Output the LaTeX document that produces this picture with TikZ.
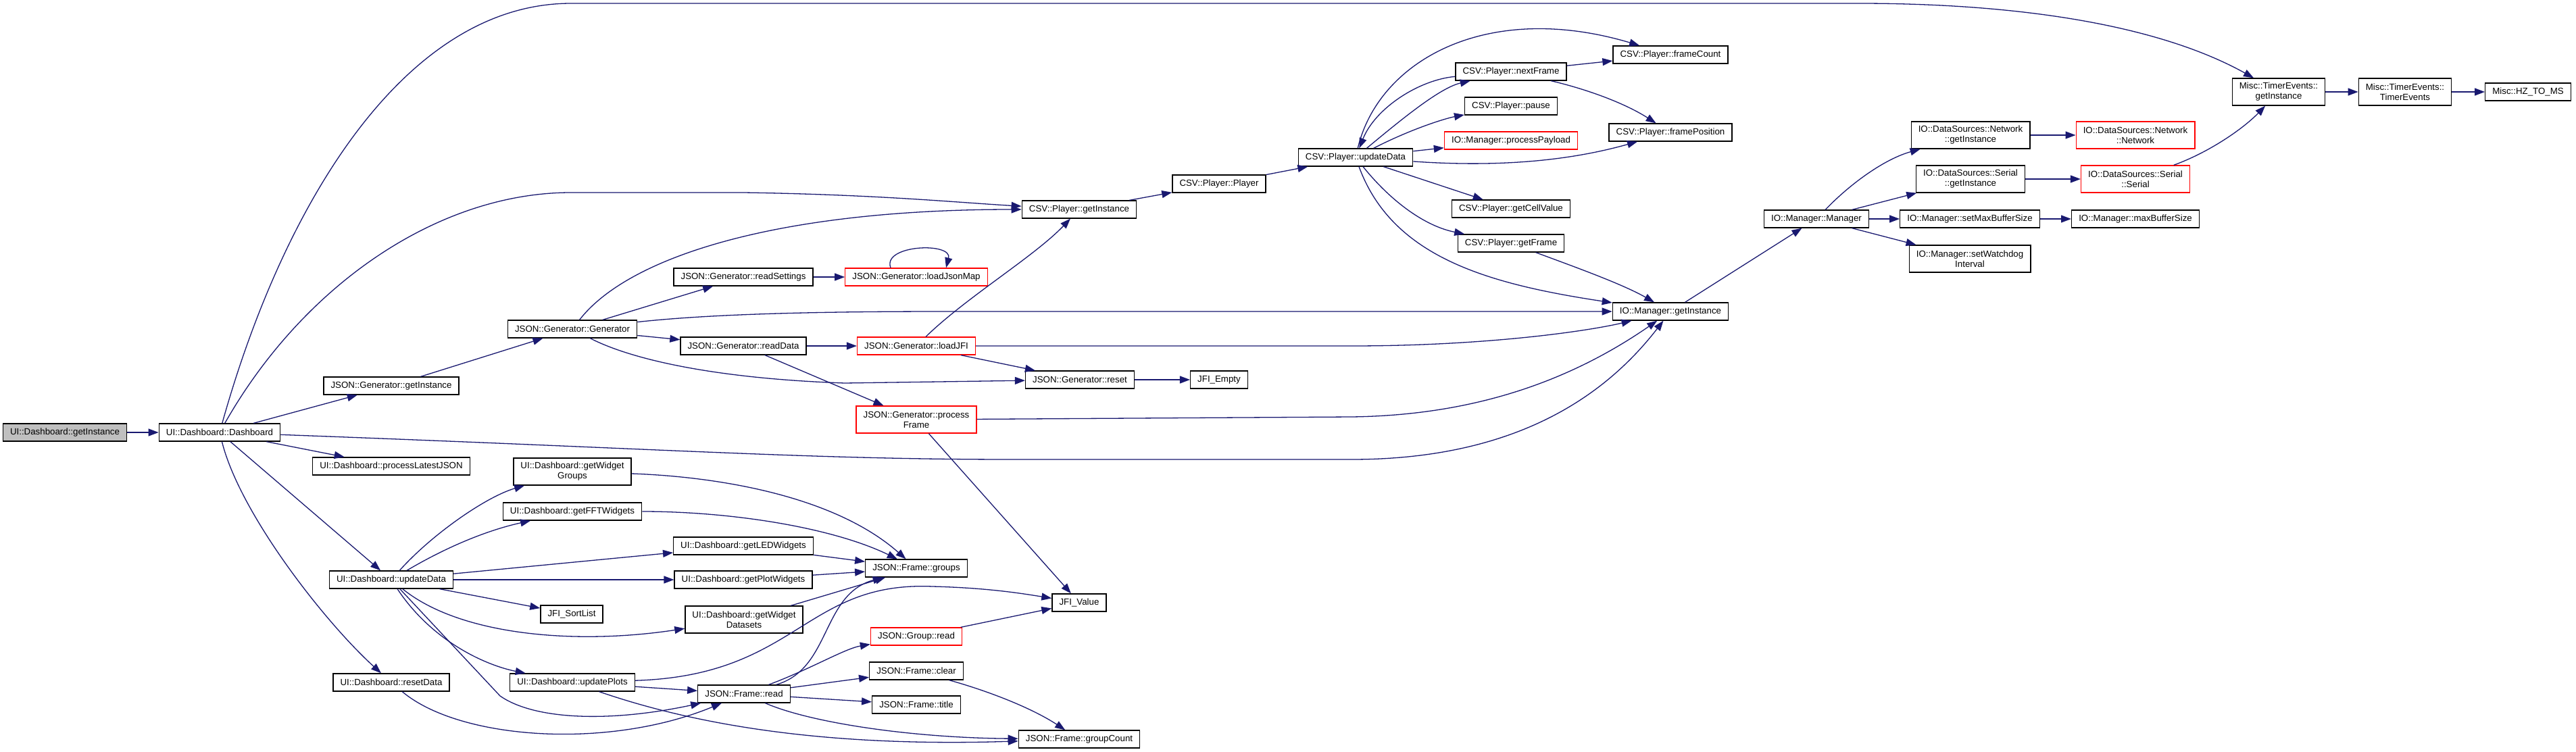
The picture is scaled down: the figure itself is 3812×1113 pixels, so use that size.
\documentclass[tikz,border=0pt]{standalone}
\usepackage{fontspec}
\newfontfamily\dxfont{Liberation Sans}
\usetikzlibrary{arrows.meta}
\definecolor{edgeblue}{HTML}{191970}
\definecolor{startgray}{HTML}{BFBFBF}
\newcommand\dxfnt{\dxfont\fontsize{6.65pt}{7.5pt}\selectfont}
\tikzset{
  fn/.style={draw=black, line width=0.65pt, fill=white, inner xsep=5.3pt, inner ysep=1pt,
             minimum height=13pt, font=\dxfnt, align=center},
  fn2/.style={fn, minimum height=20pt},
  redfn/.style={fn, draw=red},
  redfn2/.style={fn2, draw=red},
  startfn/.style={fn, fill=startgray},
  conn/.style={draw=edgeblue, line width=0.65pt, -{Triangle[length=7.5pt,width=5.5pt]}}
}
\begin{document}
\begin{tikzpicture}[x=0.5pt, y=-0.5pt]
\useasboundingbox (0,0) rectangle (3812,1113);
% ---- nodes ----
\node[startfn] (ugi) at (96,640) {UI::Dashboard::getInstance};
\node[fn] (dash) at (325,640) {UI::Dashboard::Dashboard};
\node[fn] (jggi) at (579,571) {JSON::Generator::getInstance};
\node[fn] (plj) at (579,690) {UI::Dashboard::processLatestJSON};
\node[fn] (uud) at (579,858) {UI::Dashboard::updateData};
\node[fn] (urd) at (579,1010) {UI::Dashboard::resetData};
\node[fn] (gen) at (847,487) {JSON::Generator::Generator};
\node[fn2] (gwg) at (847,698) {UI::Dashboard::getWidget\\Groups};
\node[fn] (fft) at (847,757) {UI::Dashboard::getFFTWidgets};
\node[fn] (jsl) at (846,909) {JFI\_SortList};
\node[fn] (upl) at (847,1010) {UI::Dashboard::updatePlots};
\node[fn] (rset) at (1100,410) {JSON::Generator::readSettings};
\node[fn] (rdat) at (1100,512) {JSON::Generator::readData};
\node[fn] (led) at (1100,808) {UI::Dashboard::getLEDWidgets};
\node[fn] (plw) at (1100,858) {UI::Dashboard::getPlotWidgets};
\node[fn2] (wds) at (1101,917) {UI::Dashboard::getWidget\\Datasets};
\node[fn] (frd) at (1101,1027) {JSON::Frame::read};
\node[redfn] (ljm) at (1356,410) {JSON::Generator::loadJsonMap};
\node[redfn] (ljfi) at (1356,512) {JSON::Generator::loadJFI};
\node[redfn2] (pfr) at (1356,621) {JSON::Generator::process\\Frame};
\node[fn] (fgr) at (1356,841) {JSON::Frame::groups};
\node[redfn] (grd) at (1356,942) {JSON::Group::read};
\node[fn] (fcl) at (1356,993) {JSON::Frame::clear};
\node[fn] (fti) at (1356,1043) {JSON::Frame::title};
\node[fn] (cgi) at (1597,310) {CSV::Player::getInstance};
\node[fn] (rst) at (1598,562) {JSON::Generator::reset};
\node[fn] (jv) at (1597,892) {JFI\_Value};
\node[fn] (fgc) at (1597,1094) {JSON::Frame::groupCount};
\node[fn] (cpl) at (1804,272) {CSV::Player::Player};
\node[fn] (jem) at (1804,562) {JFI\_Empty};
\node[fn] (cud) at (2006,233) {CSV::Player::updateData};
\node[fn] (cnf) at (2236,106) {CSV::Player::nextFrame};
\node[fn] (cpa) at (2236,157) {CSV::Player::pause};
\node[redfn] (ipp) at (2236,208) {IO::Manager::processPayload};
\node[fn] (cgc) at (2236,309) {CSV::Player::getCellValue};
\node[fn] (cgf) at (2236,360) {CSV::Player::getFrame};
\node[fn] (cfc) at (2472,81) {CSV::Player::frameCount};
\node[fn] (cfp) at (2472,196) {CSV::Player::framePosition};
\node[fn] (igi) at (2472,461) {IO::Manager::getInstance};
\node[fn] (imm) at (2688,324) {IO::Manager::Manager};
\node[fn2] (ngi) at (2916,200) {IO::DataSources::Network\\::getInstance};
\node[fn2] (sgi) at (2916,265) {IO::DataSources::Serial\\::getInstance};
\node[fn] (smb) at (2915,324) {IO::Manager::setMaxBufferSize};
\node[fn2] (swd) at (2915,383) {IO::Manager::setWatchdog\\Interval};
\node[redfn2] (nnw) at (3160,200) {IO::DataSources::Network\\::Network};
\node[redfn2] (sse) at (3160,265) {IO::DataSources::Serial\\::Serial};
\node[fn] (mbs) at (3160,324) {IO::Manager::maxBufferSize};
\node[fn2] (tgi) at (3372,136) {Misc::TimerEvents::\\getInstance};
\node[fn2] (tte) at (3559,136) {Misc::TimerEvents::\\TimerEvents};
\node[fn] (hz) at (3741,136) {Misc::HZ\_TO\_MS};
% ---- edges ----
\draw[conn] (ugi) -- (dash);
\draw[conn] (dash) .. controls (420,300) and (600,5) .. (845,5) -- (2750,5) .. controls (3000,5) and (3200,40) .. (tgi);
\draw[conn] (dash) .. controls (450,420) and (650,285) .. (845,285) -- (1100,285) .. controls (1300,288) and (1420,300) .. (cgi);
\draw[conn] (dash) -- (jggi);
\draw[conn] (dash) -- (plj);
\draw[conn] (dash) -- (uud);
\draw[conn] (dash) .. controls (355,760) and (480,920) .. (urd);
\draw[conn] (dash) .. controls (1000,665) and (1200,680) .. (1500,680) -- (2000,680) .. controls (2250,680) and (2380,580) .. (igi);
\draw[conn] (jggi) -- (gen);
\draw[conn] (gen) .. controls (930,380) and (1150,310) .. (cgi);
\draw[conn] (gen) -- (rset);
\draw[conn] (gen) .. controls (1050,465) and (1200,461) .. (1400,461) -- (igi);
\draw[conn] (gen) -- (rdat);
\draw[conn] (gen) .. controls (930,530) and (1050,560) .. (1250,567) -- (rst);
\draw[conn] (rset) -- (ljm);
\draw[conn] ([xshift=-19pt]ljm.north) .. controls (1305,362) and (1410,358) .. ([xshift=22pt]ljm.north);
\draw[conn] (rdat) -- (ljfi);
\draw[conn] (rdat) -- (pfr);
\draw[conn] (ljfi) .. controls (1430,440) and (1530,380) .. (cgi);
\draw[conn] (ljfi) -- (2000,512) .. controls (2200,512) and (2350,490) .. (igi);
\draw[conn] (ljfi) -- (rst);
\draw[conn] (rst) -- (jem);
\draw[conn] (pfr) -- (2000,617) .. controls (2150,615) and (2300,580) .. (igi);
\draw[conn] (pfr) -- (jv);
\draw[conn] (cgi) -- (cpl);
\draw[conn] (cpl) -- (cud);
\draw[conn] (cud) .. controls (2040,90) and (2200,0) .. (cfc);
\draw[conn] (cnf) .. controls (2100,118) and (2035,160) .. (cud);
\draw[conn] (cud) .. controls (2070,180) and (2130,130) .. (cnf);
\draw[conn] (cud) .. controls (2090,190) and (2140,175) .. (cpa);
\draw[conn] (cud) -- (ipp);
\draw[conn] (cud) .. controls (2250,250) and (2350,230) .. (cfp);
\draw[conn] (cud) -- (cgc);
\draw[conn] (cud) .. controls (2060,300) and (2110,335) .. (cgf);
\draw[conn] (cud) .. controls (2060,380) and (2200,420) .. (igi);
\draw[conn] (cnf) -- (cfc);
\draw[conn] (cnf) .. controls (2340,130) and (2400,150) .. (cfp);
\draw[conn] (cgf) .. controls (2330,395) and (2400,420) .. (igi);
\draw[conn] (igi) -- (imm);
\draw[conn] (imm) .. controls (2740,270) and (2790,235) .. (ngi);
\draw[conn] (imm) -- (sgi);
\draw[conn] (imm) -- (smb);
\draw[conn] (imm) -- (swd);
\draw[conn] (ngi) -- (nnw);
\draw[conn] (sgi) -- (sse);
\draw[conn] (smb) -- (mbs);
\draw[conn] (sse) .. controls (3270,225) and (3320,190) .. (tgi);
\draw[conn] (tgi) -- (tte);
\draw[conn] (tte) -- (hz);
% UI side
\draw[conn] (uud) .. controls (640,790) and (720,735) .. (gwg);
\draw[conn] (uud) .. controls (660,810) and (720,785) .. (fft);
\draw[conn] (uud) -- (led);
\draw[conn] (uud) -- (plw);
\draw[conn] (uud) -- (jsl);
\draw[conn] (uud) .. controls (680,940) and (850,955) .. (wds);
\draw[conn] (uud) .. controls (640,950) and (720,985) .. (upl);
\draw[conn] (uud) -- (740,1030) .. controls (790,1065) and (900,1070) .. (frd);
\draw[conn] (urd) .. controls (680,1095) and (900,1110) .. (frd);
\draw[conn] (gwg) .. controls (1050,705) and (1230,730) .. (fgr);
\draw[conn] (fft) .. controls (1080,757) and (1230,780) .. (fgr);
\draw[conn] (led) -- (fgr);
\draw[conn] (plw) -- (fgr);
\draw[conn] (wds) -- (fgr);
\draw[conn] (frd) .. controls (1230,990) and (1215,880) .. (fgr);
\draw[conn] (frd) .. controls (1200,990) and (1250,960) .. (grd);
\draw[conn] (frd) -- (fcl);
\draw[conn] (frd) -- (fti);
\draw[conn] (frd) .. controls (1200,1070) and (1350,1092) .. (fgc);
\draw[conn] (fcl) .. controls (1470,1025) and (1530,1050) .. (fgc);
\draw[conn] (grd) -- (jv);
\draw[conn] (upl) .. controls (1180,1000) and (1190,860) .. (1380,868) .. controls (1460,870) and (1510,878) .. (jv);
\draw[conn] (upl) -- (frd);
\draw[conn] (upl) .. controls (1050,1080) and (1250,1105) .. (fgc);
\end{tikzpicture}
\end{document}
